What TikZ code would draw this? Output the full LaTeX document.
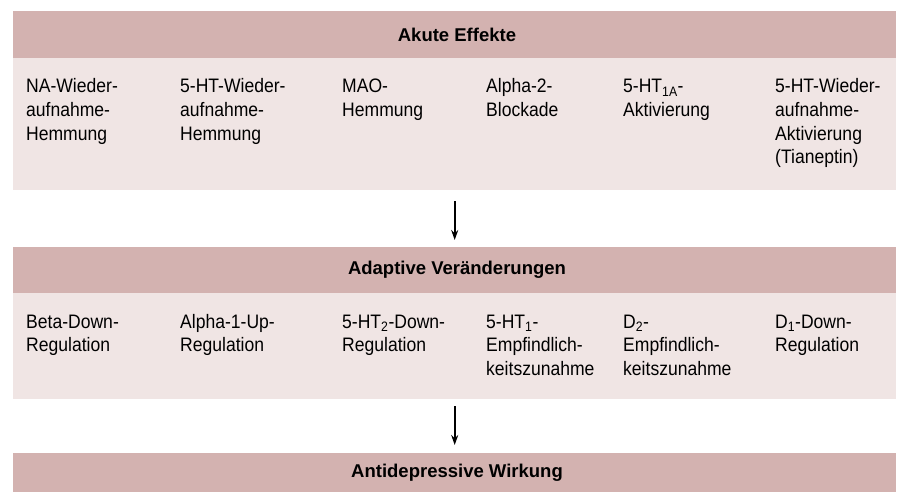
\documentclass[tikz,border=0pt]{standalone}
\usepackage{fontspec}
\setmainfont{Liberation Sans}[FakeStretch=0.9]
\newfontfamily\titlefont{Liberation Sans}
\usetikzlibrary{arrows.meta}
\definecolor{hdrcol}{RGB}{211,178,176}
\definecolor{bodycol}{RGB}{240,229,228}
\newcommand\itemstack[1]{\vtop{\baselineskip=23.6pt\lineskiplimit=-10pt\halign{##\hfil\cr#1\crcr}}}
\tikzset{
  hdr/.style={fill=hdrcol, draw=none, anchor=north west, minimum width=883pt, inner sep=0pt},
  ttl/.style={inner sep=0pt, font=\titlefont\bfseries\fontsize{18.5}{22}\selectfont},
  bodyband/.style={fill=bodycol, draw=none, anchor=north west, minimum width=883pt, inner sep=0pt},
  itm/.style={anchor=base west, inner sep=0pt, font=\fontsize{19.5}{23.6}\selectfont},
  flow/.style={draw=black, line width=1.6pt, -{Stealth[length=10pt,width=7pt]}}
}
\begin{document}
\begin{tikzpicture}[x=1pt,y=-1pt]
\useasboundingbox (0,0) rectangle (900,492);
% bands
\node[hdr, minimum height=47pt] (h1) at (13,11) {};
\node[ttl] (t1) at (457,34.5) {Akute Effekte};
\node[bodyband, minimum height=132pt] (b1) at (13,58) {};
\node[hdr, minimum height=46pt] (h2) at (13,247) {};
\node[ttl] (t2) at (457,270) {Adaptive Veränderungen};
\node[bodyband, minimum height=106pt] (b2) at (13,293) {};
\node[hdr, minimum height=39pt] (h3) at (13,453) {};
\node[ttl] (t3) at (457,472.5) {Antidepressive Wirkung};
% row 1 items
\node[itm] (a1) at (26,93) {\itemstack{NA-Wieder-\cr aufnahme-\cr Hemmung}};
\node[itm] (a2) at (180,93) {\itemstack{5-HT-Wieder-\cr aufnahme-\cr Hemmung}};
\node[itm] (a3) at (342,93) {\itemstack{MAO-\cr Hemmung}};
\node[itm] (a4) at (486,93) {\itemstack{Alpha-2-\cr Blockade}};
\node[itm] (a5) at (623,93) {\itemstack{5-HT\textsubscript{1A}-\cr Aktivierung}};
\node[itm] (a6) at (775,93) {\itemstack{5-HT-Wieder-\cr aufnahme-\cr Aktivierung\cr (Tianeptin)}};
% row 2 items
\node[itm] (c1) at (26,328) {\itemstack{Beta-Down-\cr Regulation}};
\node[itm] (c2) at (180,328) {\itemstack{Alpha-1-Up-\cr Regulation}};
\node[itm] (c3) at (342,328) {\itemstack{5-HT\textsubscript{2}-Down-\cr Regulation}};
\node[itm] (c4) at (486,328) {\itemstack{5-HT\textsubscript{1}-\cr Empfindlich-\cr keitszunahme}};
\node[itm] (c5) at (623,328) {\itemstack{D\textsubscript{2}-\cr Empfindlich-\cr keitszunahme}};
\node[itm] (c6) at (775,328) {\itemstack{D\textsubscript{1}-Down-\cr Regulation}};
% arrows
\draw[flow, shorten <=11pt, shorten >=7pt] (b1.south) -- (h2.north);
\draw[flow, shorten <=7pt, shorten >=8pt] (b2.south) -- (h3.north);
\end{tikzpicture}
\end{document}
